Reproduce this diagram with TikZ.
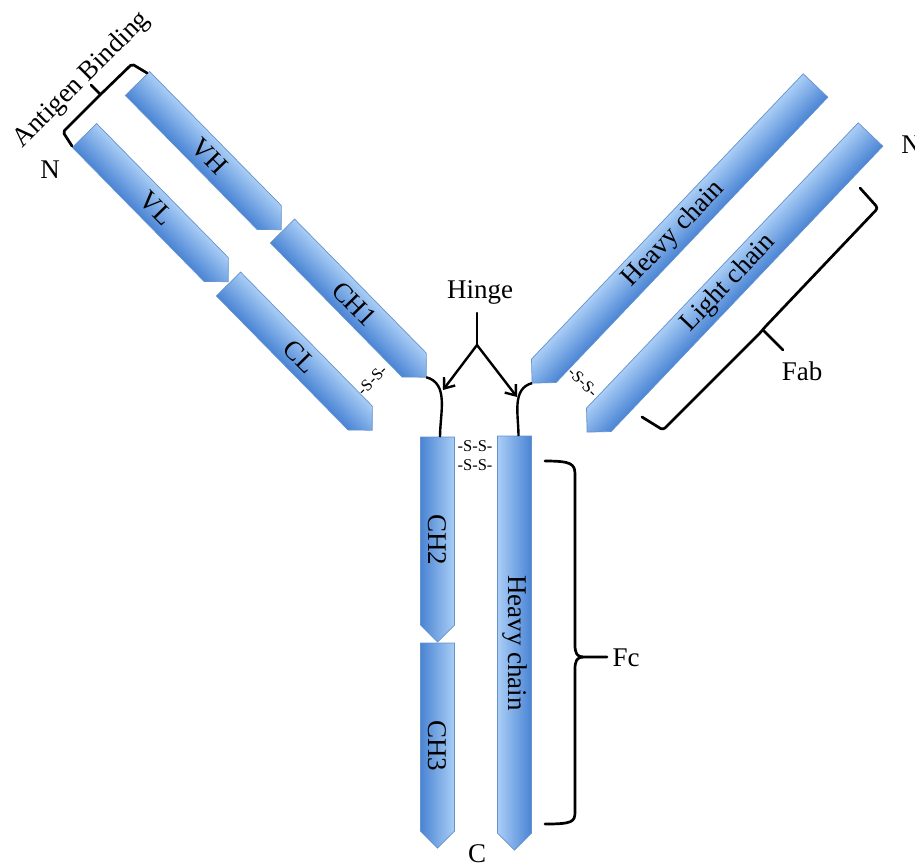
\documentclass[tikz,border=0pt]{standalone}
\usepackage{fontspec}
\setmainfont{Liberation Serif}
\usetikzlibrary{arrows.meta,calc}
\definecolor{bdark}{RGB}{74,132,212}
\definecolor{blight}{RGB}{170,206,246}
\definecolor{bline}{RGB}{100,146,204}
\tikzset{
 barA/.style={top color=blight, bottom color=bdark, draw=bline, line width=0.7pt},
 barB/.style={top color=bdark, bottom color=blight, draw=bline, line width=0.7pt},
 lbl/.style={font=\fontsize{27}{31}\selectfont, inner sep=0pt},
 ss/.style={font=\fontsize{16.5}{18}\selectfont, inner sep=0pt},
 brace/.style={line width=2.7pt, line join=round, line cap=round},
 link/.style={line width=2.4pt},
 hingearrow/.style={line width=2.4pt, -{Straight Barb[length=9pt,width=14pt]}},
}
% #1 name, #2 start, #3 angle, #4 length, #5 style, #6 label, #7 label rotation
\newcommand{\ablock}[7]{%
  \begin{scope}[transform canvas={shift={#2},rotate=#3}]
    \path[#5] (0,-17) -- ({#4-17},-17) -- (#4,0) -- ({#4-17},17) -- (0,17) -- cycle;
  \end{scope}
  \begin{scope}[shift={#2},rotate=#3]
    \coordinate (#1-s) at (0,0);
    \coordinate (#1-t) at (#4,0);
    \node[lbl,rotate=#7] (#1-l) at ({#4/2},0) {#6};
  \end{scope}}
\begin{document}
\begin{tikzpicture}[x=1pt,y=-1pt]
\useasboundingbox (0,0) rectangle (915,865);
% left arm
\ablock{VH}{(137.5,83.5)}{-45.5}{205}{barA}{VH}{-45.5}
\ablock{CHa}{(282.5,231)}{-45.5}{205}{barA}{CH1}{-45.5}
\ablock{VL}{(84.5,135.5)}{-45.5}{205}{barA}{VL}{-45.5}
\ablock{CL}{(228.5,284)}{-45.5}{205}{barA}{CL}{-45.5}
% stem
\ablock{CHb}{(437.5,437)}{-90}{205}{barA}{CH2}{-90}
\ablock{CHc}{(437.5,643)}{-90}{205}{barA}{CH3}{-90}
\ablock{HCv}{(514.5,436)}{-90}{414}{barB}{Heavy chain}{-90}
% right arm
\ablock{HCr}{(815.5,85.5)}{-133.6}{411}{barB}{Heavy chain}{46.4}
\ablock{LCr}{(870.5,134.5)}{-133.6}{411}{barB}{Light chain}{46.4}
% disulfide bonds
\node[ss, rotate=45] (ssL) at (372,380) {-S-S-};
\node[ss, rotate=-45] (ssR) at (583,382) {-S-S-};
\node[ss] (ssA) at (475,446) {-S-S-};
\node[ss] (ssB) at (475,465) {-S-S-};
% hinge
\node[lbl, anchor=base] (hinge) at (480,298) {Hinge};
\coordinate (hTop) at (477,313);
\coordinate (hFork) at (477,345);
\coordinate (hL) at (443,390);
\coordinate (hR) at (517,397);
\draw[link] (CHa-t) to[out=-15,in=90] ([xshift=2.5pt]CHb-s);
\draw[link] (HCr-t) to[out=195,in=90] ([xshift=4pt]HCv-s);
\draw[link, line cap=round] (hTop) -- (hFork);
\draw[hingearrow] (hFork) -- (hL);
\draw[hingearrow] (hFork) -- (hR);
% labels
\node[lbl, anchor=base] (Nl) at (50,178) {N};
\node[lbl, anchor=base] (Nr) at (911,153) {N};
\node[lbl, anchor=base] (Cc) at (477,862) {C};
\node[lbl, anchor=base] (fab) at (802,380) {Fab};
\node[lbl, anchor=base] (fc) at (626,666) {Fc};
\node[lbl, rotate=45] (ag) at (82,80) {Antigen Binding};
% braces
\draw[brace, rounded corners=2pt] (72,146) -- (63,132) -- (100,95) -- (132,64) -- (147,73);
\draw[brace] (100,94) -- (91,85);
\draw[brace, rounded corners=3pt] (860,188) -- (878,208) -- (765,327) -- (760,333) -- (663,430) -- (642,417);
\draw[brace] (763,330) -- (783,350);
\draw[brace] (545,461) .. controls (572,461) and (575,464) .. (575,475) -- (575,645)
   .. controls (575,653) and (577,657) .. (583,657) -- (607,657);
\draw[brace] (583,657) .. controls (577,657) and (575,661) .. (575,669) -- (575,812)
   .. controls (575,822) and (572,824) .. (545,824);
\end{tikzpicture}
\end{document}
